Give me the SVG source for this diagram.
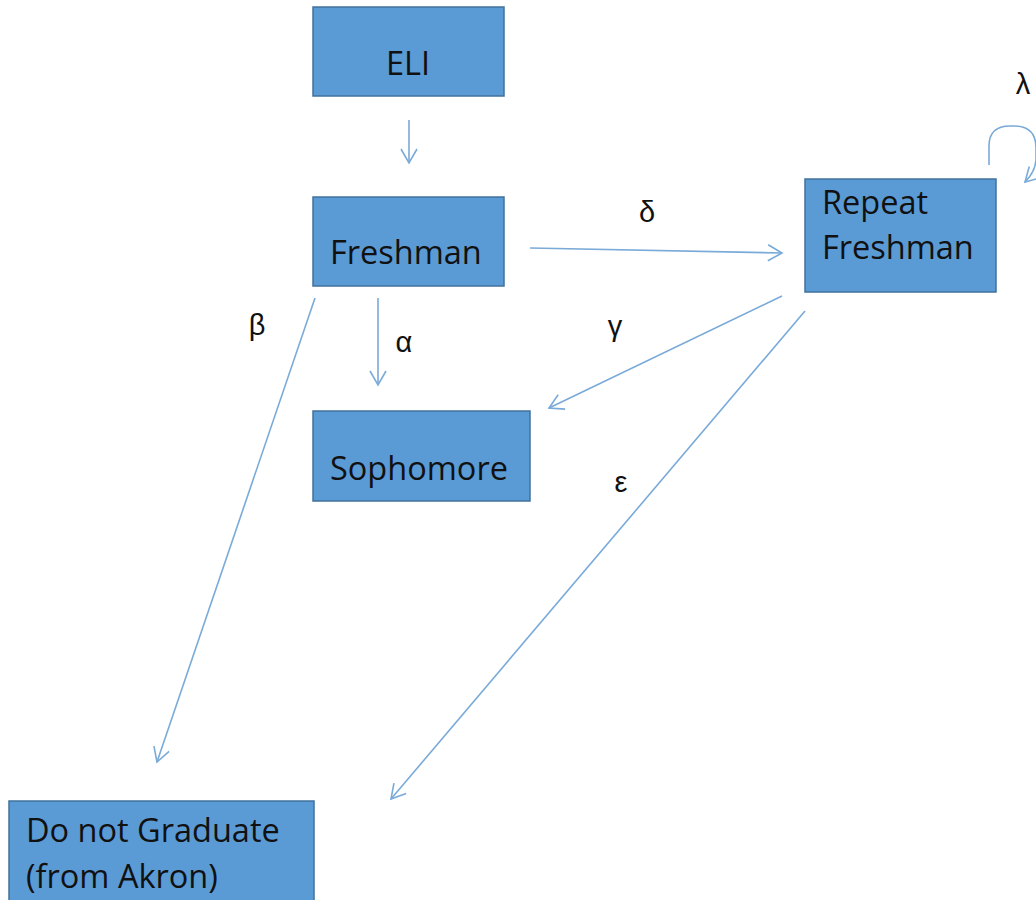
<svg xmlns="http://www.w3.org/2000/svg" width="1036" height="900" viewBox="0 0 1036 900">
<defs>
<style>
.box{fill:#5b9bd5;stroke:#41719c;stroke-width:1.5}
.t{font-family:"Open Sans","Liberation Sans",sans-serif;font-size:32.5px;fill:#111}
.g{font-family:"Liberation Sans",sans-serif;font-size:29px;fill:#111;text-anchor:middle}
.c{fill:none;stroke:#7aaad8;stroke-width:1.6}
</style>
<marker id="ah" viewBox="0 0 20 20" refX="18" refY="10" markerWidth="20" markerHeight="20" markerUnits="userSpaceOnUse" orient="auto">
<path d="M4,2 L18,10 L4,18" fill="none" stroke="#7aaad8" stroke-width="1.6"/>
</marker>
</defs>
<rect width="1036" height="900" fill="#fff"/>
<g id="connectors">
<line class="c" x1="409" y1="120" x2="409" y2="163" marker-end="url(#ah)"/>
<line class="c" x1="530" y1="248" x2="782" y2="253" marker-end="url(#ah)"/>
<line class="c" x1="378" y1="298" x2="378" y2="385" marker-end="url(#ah)"/>
<line class="c" x1="315" y1="298" x2="157" y2="762" marker-end="url(#ah)"/>
<line class="c" x1="782" y1="296" x2="549" y2="408" marker-end="url(#ah)"/>
<line class="c" x1="805" y1="311" x2="391" y2="799" marker-end="url(#ah)"/>
<path class="c" d="M989,165 L989,146 Q989,126 1010,126 L1014,126 Q1036,126 1036,148 L1036,160 Q1035,172 1025,182" marker-end="url(#ah)"/>
</g>
<g id="labels">
<text class="g" x="647" y="222">δ</text>
<text class="g" x="404" y="352">α</text>
<text class="g" x="257" y="335">β</text>
<text class="g" x="615" y="336">γ</text>
<text class="g" x="621" y="492">ε</text>
<text class="g" x="1023" y="94">λ</text>
</g>
<g id="eli"><rect class="box" x="313" y="7" width="191" height="89"/><text class="t" x="386" y="75">ELI</text></g>
<g id="freshman"><rect class="box" x="313" y="197" width="191" height="89"/><text class="t" x="330" y="264">Freshman</text></g>
<g id="repeat"><rect class="box" x="805" y="179" width="191" height="113"/><text class="t" x="822" y="214">Repeat</text><text class="t" x="822" y="259">Freshman</text></g>
<g id="sophomore"><rect class="box" x="313" y="411" width="217" height="90"/><text class="t" x="330" y="480">Sophomore</text></g>
<g id="dng"><rect class="box" x="9" y="801" width="305" height="110"/><text class="t" x="26" y="842">Do not Graduate</text><text class="t" x="26" y="888">(from Akron)</text></g>
</svg>
